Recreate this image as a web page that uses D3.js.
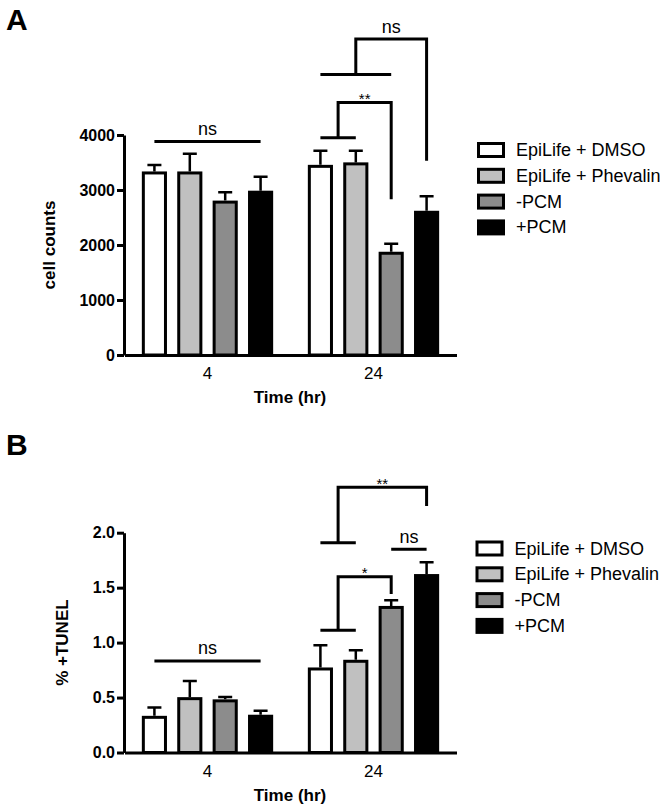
<!DOCTYPE html>
<html>
<head>
<meta charset="utf-8">
<script src="https://cdn.jsdelivr.net/npm/d3@7"></script>
<style>
  body { margin: 0; background: #fff; }
  text { font-family: "Liberation Sans", Arial, Helvetica, sans-serif; fill: #000; }
</style>
</head>
<body>
<div id="fig"></div>
<script>
//chart data
var groups = ["4", "24"];
var series = ["EpiLife + DMSO", "EpiLife + Phevalin", "-PCM", "+PCM"];

var countMean = [[3310, 3310, 2780, 2960], [3430, 3475, 1850, 2595]];
var countErr = [[145, 350, 180, 280], [285, 240, 175, 290]];
var countTicks = [0, 1000, 2000, 3000, 4000];

var tunelMean = [[0.32, 0.49, 0.47, 0.33], [0.76, 0.83, 1.32, 1.61]];
var tunelErr = [[0.09, 0.16, 0.035, 0.05], [0.215, 0.10, 0.065, 0.12]];
var tunelTicks = [0, 0.5, 1.0, 1.5, 2.0];

//significance brackets (bar indices and heights in data units)
var countSig = [
    {group: "4", left: [0, 3], y: 3880, label: "ns"},
    {group: "24", left: [0, 1], y: 3950, top: 4590, right: 2, end: 2830, label: "**"},
    {group: "24", left: [0, 2], y: 5100, top: 5745, right: 3, end: 3530, label: "ns"}
];
var tunelSig = [
    {group: "4", left: [0, 3], y: 0.833, label: "ns"},
    {group: "24", left: [0, 1], y: 1.112, top: 1.60, right: 2, end: 1.442, label: "*"},
    {group: "24", left: [0, 1], y: 1.909, top: 2.413, right: 3, end: 2.243, label: "**"},
    {group: "24", left: [2, 3], y: 1.849, label: "ns"}
];

var fills = ["#ffffff", "#c0c0c0", "#8c8c8c", "#000000"];

var svg = d3.select("#fig").append("svg")
    .attr("width", 666)
    .attr("height", 809);

//shared x scales
var x0 = d3.scaleBand().domain(groups).range([124.5, 456.5]).padding(0);
var x1 = d3.scaleBand().domain(d3.range(series.length))
    .range([0, x0.bandwidth()])
    .paddingInner(0.29)
    .paddingOuter(0.49);

function barCenter(g, i) {
    return x0(g) + x1(i) + x1.bandwidth() / 2;
}

function drawPanel(p) {
    var y = d3.scaleLinear().domain(p.domain).range(p.range);
    var g = svg.append("g");

    //panel letter
    g.append("text")
        .attr("x", 6)
        .attr("y", p.letterY)
        .attr("font-size", "30px")
        .attr("font-weight", "bold")
        .text(p.letter);

    //bars
    groups.forEach(function(grp, gi) {
        var rows = series.map(function(s, i) {
            return {i: i, v: p.mean[gi][i], e: p.err[gi][i]};
        });
        var bg = g.append("g");
        bg.selectAll("rect")
            .data(rows)
            .enter()
            .append("rect")
            .attr("x", d => x0(grp) + x1(d.i) + 1.5)
            .attr("width", x1.bandwidth() - 3)
            .attr("y", d => y(d.v))
            .attr("height", d => y(0) - y(d.v))
            .attr("fill", d => fills[d.i])
            .attr("stroke", "#000")
            .attr("stroke-width", 3);

        //error bars (upper only)
        bg.selectAll(".err")
            .data(rows)
            .enter()
            .append("path")
            .attr("d", function(d) {
                var cx = barCenter(grp, d.i);
                var top = y(d.v + d.e);
                return "M" + cx + "," + (y(d.v) - 1.5) + "V" + top + "M" + (cx - 7) + "," + top + "H" + (cx + 7);
            })
            .attr("fill", "none")
            .attr("stroke", "#000")
            .attr("stroke-width", 2.5);
    });

    //y axis
    var yAxis = g.append("g")
        .attr("transform", "translate(124,0)")
        .call(d3.axisLeft(y).tickValues(p.ticks).tickFormat(p.fmt).tickSize(7).tickSizeOuter(0).tickPadding(2));
    yAxis.select(".domain").attr("stroke-width", 3);
    yAxis.selectAll(".tick line").attr("stroke-width", 3);
    yAxis.selectAll(".tick text")
        .attr("font-size", "16px")
        .attr("font-weight", "bold")
        .attr("font-family", "'Liberation Sans', Arial, sans-serif");

    //x axis
    var xAxis = g.append("g")
        .attr("transform", `translate(0, ${y(0)})`)
        .call(d3.axisBottom(x0).tickSize(0).tickSizeOuter(0).tickPadding(12));
    xAxis.select(".domain").attr("stroke-width", 3);
    xAxis.selectAll(".tick text")
        .attr("font-size", "17px")
        .attr("font-family", "'Liberation Sans', Arial, sans-serif");

    //axis titles
    g.append("text")
        .attr("x", 290)
        .attr("y", y(0) + 48)
        .attr("text-anchor", "middle")
        .attr("font-size", "17px")
        .attr("font-weight", "bold")
        .text("Time (hr)");

    g.append("text")
        .attr("transform", `translate(${p.titleX}, ${(p.range[0] + p.range[1]) / 2}) rotate(-90)`)
        .attr("text-anchor", "middle")
        .attr("dominant-baseline", "central")
        .attr("font-size", "17px")
        .attr("font-weight", "bold")
        .text(p.title);

    //significance brackets
    p.sig.forEach(function(s) {
        var xa = barCenter(s.group, s.left[0]);
        var xb = barCenter(s.group, s.left[1]);
        var yl = y(s.y);
        var path = "M" + xa + "," + yl + "H" + xb;
        var tx = (xa + xb) / 2;
        var ty = yl;
        if (s.top !== undefined) {
            var xm = (xa + xb) / 2;
            var xr = barCenter(s.group, s.right);
            var yt = y(s.top);
            path += "M" + xm + "," + yl + "V" + yt + "H" + xr + "V" + y(s.end);
            tx = (xm + xr) / 2;
            ty = yt;
        }
        g.append("path")
            .attr("d", path)
            .attr("fill", "none")
            .attr("stroke", "#000")
            .attr("stroke-width", 3);
        var star = s.label.indexOf("*") >= 0;
        g.append("text")
            .attr("x", tx)
            .attr("y", star ? ty + 1.5 : ty - 6.5)
            .attr("text-anchor", "middle")
            .attr("font-size", star ? "15px" : "18px")
            .text(s.label);
    });

    //legend
    var lg = g.append("g");
    series.forEach(function(s, i) {
        var cy = p.legendY + i * 25.8;
        lg.append("rect")
            .attr("x", p.legendX + 1.5)
            .attr("y", cy - 6.5)
            .attr("width", 25)
            .attr("height", 13)
            .attr("fill", fills[i])
            .attr("stroke", "#000")
            .attr("stroke-width", 3);
        lg.append("text")
            .attr("x", p.legendX + 39)
            .attr("y", cy)
            .attr("dominant-baseline", "central")
            .attr("font-size", "18px")
            .text(s);
    });
}

drawPanel({
    letter: "A", letterY: 30,
    mean: countMean, err: countErr,
    domain: [0, 4000], range: [355, 135],
    ticks: countTicks, fmt: d3.format("d"),
    title: "cell counts", titleX: 49,
    sig: countSig,
    legendX: 477, legendY: 150
});

drawPanel({
    letter: "B", letterY: 455,
    mean: tunelMean, err: tunelErr,
    domain: [0, 2], range: [752.5, 532.7],
    ticks: tunelTicks, fmt: d3.format(".1f"),
    title: "% +TUNEL", titleX: 62,
    sig: tunelSig,
    legendX: 475.5, legendY: 548.5
});
</script>
</body>
</html>
